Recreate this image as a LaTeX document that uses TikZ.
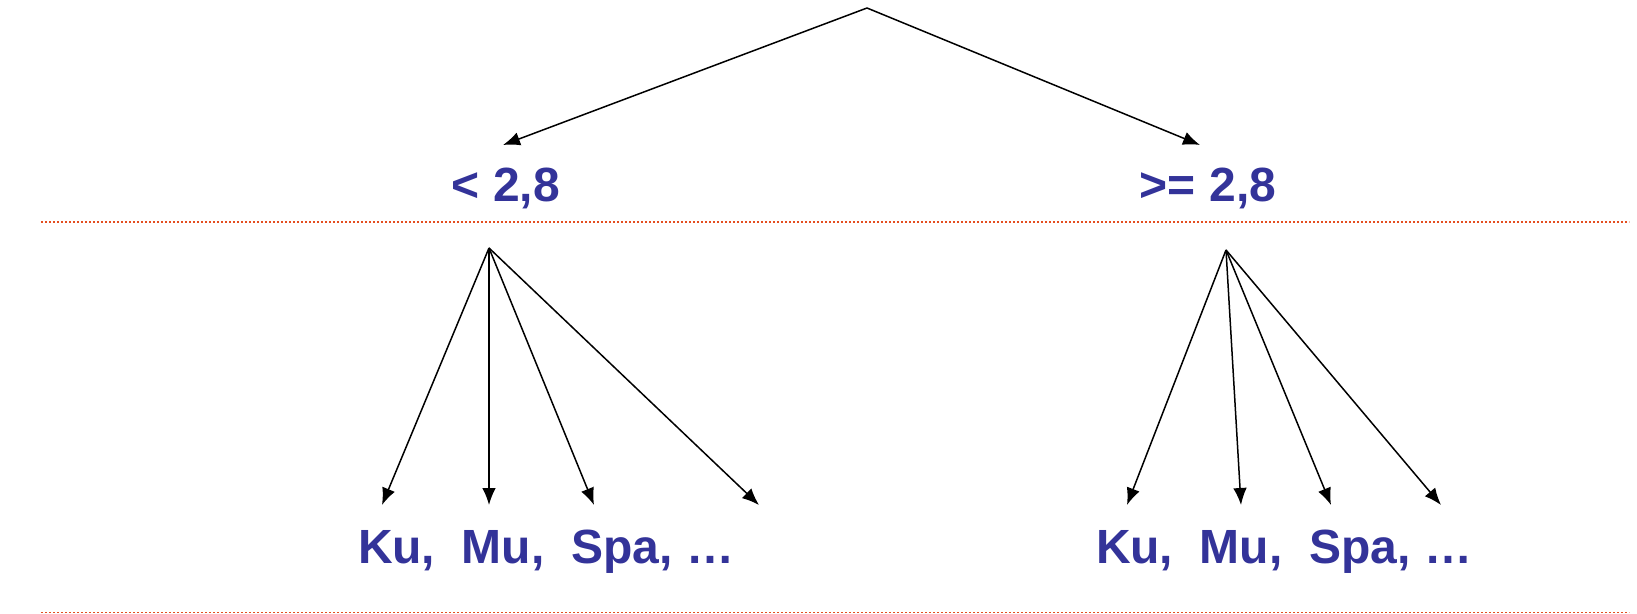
\documentclass[tikz,border=0pt]{standalone}
\usepackage{fontspec}
\setmainfont{Liberation Sans}
\usetikzlibrary{arrows.meta}
\definecolor{labelblue}{RGB}{51,51,153}
\definecolor{dotred}{RGB}{228,78,32}
\tikzset{
  lbl/.style={text=labelblue,font=\bfseries\fontsize{24}{29}\selectfont,inner sep=0pt,anchor=base},
  arr/.style={line width=0.75pt,-{Latex[length=8.5pt,width=6.8pt]}},
  sep/.style={dotred,line width=0.9pt,dash pattern=on 0.9pt off 1.1pt}
}
\begin{document}
\begin{tikzpicture}[x=0.5pt,y=-0.5pt]
\useasboundingbox (0,0) rectangle (1637,614);
\coordinate (top) at (867,8);
\coordinate (tl) at (503,145);
\coordinate (tr) at (1200,145);
\node[lbl] (lo) at (506,202) {< 2,8};
\node[lbl] (hi) at (1208,202) {>= 2,8};
\draw[arr] (top) -- (tl);
\draw[arr] (top) -- (tr);
% separators
\coordinate (s1a) at (41,222);
\coordinate (s1b) at (1629,222);
\coordinate (s2a) at (41,612.5);
\coordinate (s2b) at (1629,612.5);
\draw[sep] (s1a) -- (s1b);
\draw[sep] (s2a) -- (s2b);
% left group
\coordinate (lo0) at (489,248);
\coordinate (la) at (382,505);
\coordinate (lb) at (489,505);
\coordinate (lc) at (594,505);
\coordinate (ld) at (759,505);
\foreach \t in {la,lb,lc,ld} \draw[arr] (lo0) -- (\t);
% right group
\coordinate (hi0) at (1226,250);
\coordinate (ra) at (1127,505);
\coordinate (rb) at (1241,505);
\coordinate (rc) at (1331,505);
\coordinate (rd) at (1441,505);
\foreach \t in {ra,rb,rc,rd} \draw[arr] (hi0) -- (\t);
\node[lbl] (bl) at (546,563) {Ku,\ \ Mu,\ \ Spa, …};
\node[lbl] (br) at (1284,563) {Ku,\ \ Mu,\ \ Spa, …};
\end{tikzpicture}
\end{document}
